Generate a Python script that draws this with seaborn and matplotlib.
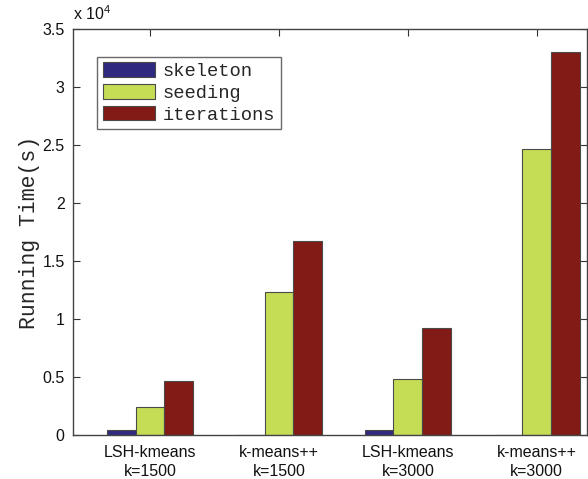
import matplotlib
matplotlib.use("Agg")
import matplotlib.pyplot as plt
import matplotlib.transforms as mtransforms
import pandas as pd
import seaborn as sns

# Running time (seconds) per method / cluster count, split by phase
methods = ["LSH-kmeans\nk=1500", "k-means++\nk=1500", "LSH-kmeans\nk=3000", "k-means++\nk=3000"]
phases = ["skeleton", "seeding", "iterations"]
skeleton = [460, 30, 430, 30]
seeding = [2430, 12380, 4830, 24680]
iterations = [4710, 16780, 9220, 33070]
colors = ["#2f2a80", "#c4dd55", "#821b15"]
ytick_vals = [0, 0.5, 1, 1.5, 2, 2.5, 3, 3.5]

rows = []
for phase, vals in zip(phases, [skeleton, seeding, iterations]):
    for m, v in zip(methods, vals):
        rows.append({"method": m, "phase": phase, "time": v})
df = pd.DataFrame(rows)

sns.set_style("white")
plt.rcParams["font.family"] = ["Liberation Sans", "DejaVu Sans"]
plt.rcParams["mathtext.fontset"] = "custom"
plt.rcParams["mathtext.rm"] = "Liberation Sans"
plt.rcParams["mathtext.it"] = "Liberation Sans"

fig = plt.figure(figsize=(5.88, 4.79), dpi=100)
ax = fig.add_axes([0.124, 0.0912, 0.874, 0.848])

sns.barplot(data=df, x="method", y="time", hue="phase", order=methods,
            hue_order=phases, palette=colors, width=0.667, saturation=1,
            edgecolor="#4a4a4a", linewidth=0.8, ax=ax, errorbar=None)

ax.set_xlim(-0.597, 3.388)
ax.set_ylim(0, 35000)
ax.set_yticks([v * 1e4 for v in ytick_vals])
ax.set_yticklabels([f"{v:g}" for v in ytick_vals], fontsize=11.5)
ax.set_xticks(range(len(methods)))
ax.set_xticklabels(methods, fontsize=11.5, linespacing=1.3)
ax.set_xlabel("")
ax.set_ylabel("Running Time(s)", family="Liberation Mono", fontsize=15.5,
              labelpad=2)

# shift the k-means++ labels slightly right
for i, lbl in enumerate(ax.get_xticklabels()):
    if i in (1, 3):
        lbl.set_transform(lbl.get_transform() +
                          mtransforms.ScaledTranslation(12 / 100, 0, fig.dpi_scale_trans))

ax.tick_params(axis="both", direction="in", length=5, width=0.8,
               top=True, right=True, bottom=True, left=True,
               colors="#333333", labelcolor="#111111", pad=6)
ax.tick_params(axis="x", pad=7)
for s in ax.spines.values():
    s.set_visible(True)
    s.set_color("#444444")
    s.set_linewidth(1.0)

ax.text(0.0, 1.015, r"x 10$^{4}$", transform=ax.transAxes, fontsize=11.5,
        ha="left", va="bottom", color="#111111")

leg = ax.legend(loc="upper left", bbox_to_anchor=(0.047, 0.932),
                borderaxespad=0, prop={"family": "Liberation Mono", "size": 13.5},
                frameon=True, fancybox=False, edgecolor="#444444",
                handlelength=2.8, handleheight=0.8, labelspacing=0.22,
                handletextpad=0.4, borderpad=0.3)
leg.get_frame().set_linewidth(1.0)
leg.set_title(None)

fig.savefig("out.png", dpi=100)
